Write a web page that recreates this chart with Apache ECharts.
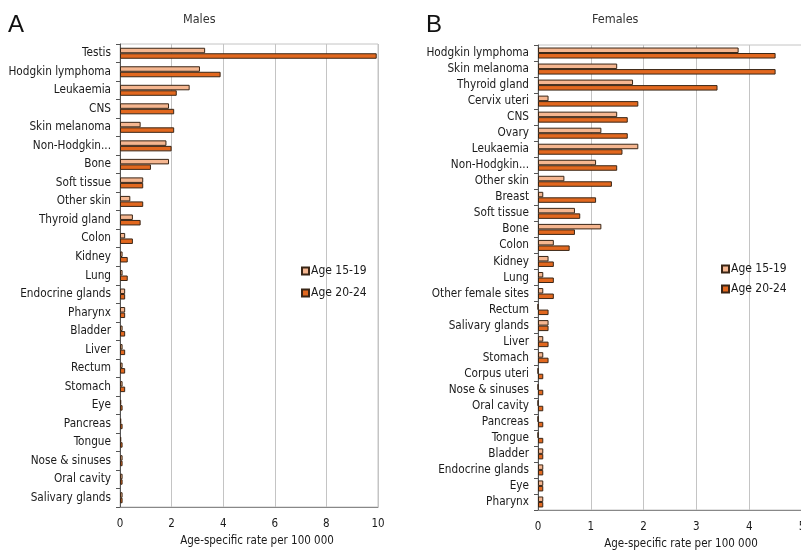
<!DOCTYPE html>
<html>
<head>
<meta charset="utf-8">
<script src="https://cdn.jsdelivr.net/npm/echarts@6/dist/echarts.min.js"></script>
<style>
html,body{margin:0;padding:0;background:#fff;overflow:hidden;}
#chart{width:801px;height:550px;}
</style>
</head>
<body>
<div id="chart"></div>
<script>
// ---- Data ----
const maleCategories = ["Testis","Hodgkin lymphoma","Leukaemia","CNS","Skin melanoma","Non-Hodgkin...","Bone","Soft tissue","Other skin","Thyroid gland","Colon","Kidney","Lung","Endocrine glands","Pharynx","Bladder","Liver","Rectum","Stomach","Eye","Pancreas","Tongue","Nose & sinuses","Oral cavity","Salivary glands"];
const male1519 = [3.3,3.1,2.7,1.9,0.8,1.8,1.9,0.9,0.4,0.5,0.2,0.1,0.1,0.2,0.2,0.1,0.1,0.1,0.1,0.05,0.05,0.05,0.1,0.1,0.1];
const male2024 = [9.95,3.9,2.2,2.1,2.1,2.0,1.2,0.9,0.9,0.8,0.5,0.3,0.3,0.2,0.2,0.2,0.2,0.2,0.2,0.1,0.1,0.1,0.1,0.1,0.1];

const femaleCategories = ["Hodgkin lymphoma","Skin melanoma","Thyroid gland","Cervix uteri","CNS","Ovary","Leukaemia","Non-Hodgkin...","Other skin","Breast","Soft tissue","Bone","Colon","Kidney","Lung","Other female sites","Rectum","Salivary glands","Liver","Stomach","Corpus uteri","Nose & sinuses","Oral cavity","Pancreas","Tongue","Bladder","Endocrine glands","Eye","Pharynx"];
const female1519 = [3.8,1.5,1.8,0.2,1.5,1.2,1.9,1.1,0.5,0.1,0.7,1.2,0.3,0.2,0.1,0.1,0,0.2,0.1,0.1,0,0,0,0,0,0.1,0.1,0.1,0.1];
const female2024 = [4.5,4.5,3.4,1.9,1.7,1.7,1.6,1.5,1.4,1.1,0.8,0.7,0.6,0.3,0.3,0.3,0.2,0.2,0.2,0.2,0.1,0.1,0.1,0.1,0.1,0.1,0.1,0.1,0.1];

const seriesNames = ["Age 15-19","Age 20-24"];
const maleXTicks = {min:0, max:10, interval:2};
const femaleXTicks = {min:0, max:5, interval:1};
const xAxisTitle = "Age-specific rate per 100 000";

// ---- Styles ----
const c1519 = '#F5B690';
const c2024 = '#E2681F';
const barBorder = '#3a2616';
const font = "'DejaVu Sans Condensed','DejaVu Sans',sans-serif";

function catAxis(gridIndex, cats){
  return {
    type:'category', gridIndex, data:cats, inverse:true,
    axisLine:{show:true, lineStyle:{color:'#555', width:1}},
    axisTick:{show:true, inside:false, length:4, lineStyle:{color:'#555'}},
    axisLabel:{color:'#1a1a1a', fontSize:11.7, fontFamily:font, margin:9, interval:0},
    splitLine:{show:false}
  };
}
function valAxis(gridIndex, t, namePad){
  return {
    type:'value', gridIndex, min:t.min, max:t.max, interval:t.interval,
    name:xAxisTitle, nameLocation:'middle', nameGap:28,
    nameTextStyle:{color:'#1a1a1a', fontSize:11.5, fontFamily:font, padding:[0,0,0,namePad]},
    axisLine:{show:true, lineStyle:{color:'#888', width:1}},
    axisTick:{show:false},
    axisLabel:{color:'#1a1a1a', fontSize:11.5, fontFamily:font, margin:11},
    splitLine:{show:true, lineStyle:{color:'#c4c4c4', width:1}}
  };
}
function barSeries(name, color, data, idx){
  return {
    name, type:'bar', xAxisIndex:idx, yAxisIndex:idx, data,
    barWidth:5.5, barGap:'0%',
    itemStyle:{color, borderColor:barBorder, borderWidth:1},
    emphasis:{disabled:true}, animation:false
  };
}

const chart = echarts.init(document.getElementById('chart'), null, {renderer:'canvas', width:801, height:550});
chart.setOption({
  backgroundColor:'#ffffff',
  animation:false,
  title:[
    {text:'A', left:3, top:8, textStyle:{fontSize:24, fontWeight:'normal', color:'#111', fontFamily:"'Liberation Sans',sans-serif"}},
    {text:'Males', left:178, top:8, textStyle:{fontSize:12.5, fontWeight:'normal', color:'#333', fontFamily:font}},
    {text:'B', left:421, top:8, textStyle:{fontSize:24, fontWeight:'normal', color:'#111', fontFamily:"'Liberation Sans',sans-serif"}},
    {text:'Females', left:587, top:8, textStyle:{fontSize:12.5, fontWeight:'normal', color:'#333', fontFamily:font}}
  ],
  legend:[
    {data:seriesNames, orient:'vertical', left:296, top:260, itemWidth:7, itemHeight:7, itemGap:10,
     icon:'rect', textStyle:{fontSize:12, color:'#1a1a1a', fontFamily:font, padding:[0,0,0,-3]}},
    {data:seriesNames, orient:'vertical', left:716, top:258, itemWidth:7, itemHeight:7, itemGap:8,
     icon:'rect', textStyle:{fontSize:12, color:'#1a1a1a', fontFamily:font, padding:[0,0,0,-3]}}
  ],
  grid:[
    {left:120, top:44, width:258, height:463, outerBoundsMode:'none', containLabel:false, show:true, borderColor:'#c4c4c4', borderWidth:1, backgroundColor:'transparent'},
    {left:538, top:45, width:264, height:465, outerBoundsMode:'none', containLabel:false, show:true, borderColor:'#c4c4c4', borderWidth:1, backgroundColor:'transparent'}
  ],
  xAxis:[valAxis(0, maleXTicks, 16), valAxis(1, femaleXTicks, 22)],
  yAxis:[catAxis(0, maleCategories), catAxis(1, femaleCategories)],
  series:[
    barSeries(seriesNames[0], c1519, male1519, 0),
    barSeries(seriesNames[1], c2024, male2024, 0),
    barSeries(seriesNames[0], c1519, female1519, 1),
    barSeries(seriesNames[1], c2024, female2024, 1)
  ]
});
</script>
</body>
</html>
